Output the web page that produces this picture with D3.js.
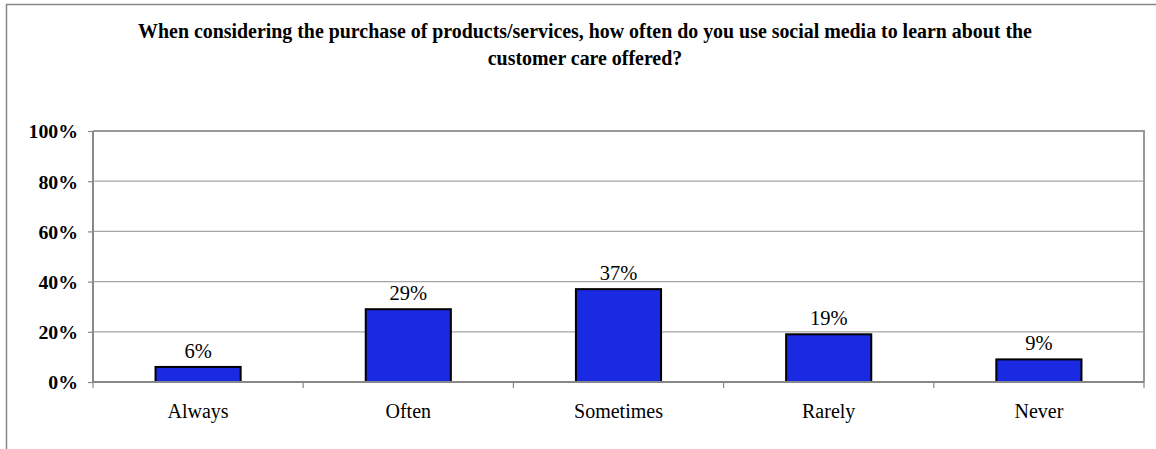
<!DOCTYPE html>
<html><head><meta charset="utf-8">
<script src="https://cdn.jsdelivr.net/npm/d3@7"></script>
<style>html,body{margin:0;padding:0;background:#fff;overflow:hidden}</style>
</head><body>
<svg id="c" width="1156" height="449"></svg>
<script>
const categories = ["Always","Often","Sometimes","Rarely","Never"];
const values = [6, 29, 37, 19, 9];
const yTicks = [0, 20, 40, 60, 80, 100];
const titleLines = ["When considering the purchase of products/services, how often do you use social media to learn about the","customer care offered?"];

const svg = d3.select("#c");
const font = "'Liberation Serif','Times New Roman',serif";
const m = {left: 93, right: 1144, top: 131, bottom: 382};

svg.append("rect").attr("x",6.5).attr("y",4.5).attr("width",1200).attr("height",500)
  .attr("fill","#fff").attr("stroke","#888").attr("stroke-width",1.5);

const x = d3.scaleBand().domain(categories).range([m.left, m.right]).paddingInner(0).paddingOuter(0);
const y = d3.scaleLinear().domain([0,100]).range([m.bottom, m.top]);

// gridlines
svg.append("g").selectAll("line").data(yTicks.filter(d=>d>0&&d<100)).join("line")
  .attr("x1",m.left).attr("x2",m.right).attr("y1",d=>y(d)).attr("y2",d=>y(d))
  .attr("stroke","#a6a6a6").attr("stroke-width",1.2);

// plot frame (top, right)
svg.append("path").attr("d",`M${m.left},${m.top}H${m.right}V${m.bottom}`)
  .attr("fill","none").attr("stroke","#999").attr("stroke-width",2);

// bars
const bw = x.bandwidth()*0.405;
svg.append("g").selectAll("rect").data(values).join("rect")
  .attr("x",(d,i)=>x(categories[i])+x.bandwidth()/2-bw/2)
  .attr("y",d=>y(d)).attr("width",bw).attr("height",d=>y(0)-y(d))
  .attr("fill","#1a2ae2").attr("stroke","#000").attr("stroke-width",2);

// value labels
svg.append("g").selectAll("text").data(values).join("text")
  .attr("x",(d,i)=>x(categories[i])+x.bandwidth()/2)
  .attr("y",d=>y(d)-9).attr("text-anchor","middle")
  .attr("font-family",font).attr("font-size",20.5).attr("fill","#000")
  .text(d=>d+"%");

// y axis
const yAxis = d3.axisLeft(y).tickValues(yTicks).tickSize(5).tickFormat(d=>d+"%");
const gy = svg.append("g").attr("transform",`translate(${m.left},0)`).call(yAxis);
gy.select(".domain").attr("stroke","#888").attr("stroke-width",2).attr("d",`M0,${m.top}V${m.bottom}`);
gy.selectAll(".tick line").attr("stroke","#888").attr("stroke-width",1.2);
gy.selectAll(".tick text").attr("font-family",font).attr("font-size",19.8).attr("font-weight","bold")
  .attr("fill","#000").attr("x",-15).attr("dy","0.35em");

// x axis
const xb = d3.scaleLinear().domain([0,categories.length]).range([m.left,m.right]);
const gx = svg.append("g").attr("transform",`translate(0,${m.bottom})`);
gx.append("line").attr("x1",m.left).attr("x2",m.right).attr("stroke","#888").attr("stroke-width",2);
gx.selectAll("line.t").data(d3.range(0,categories.length+1)).join("line").attr("class","t")
  .attr("x1",d=>xb(d)).attr("x2",d=>xb(d)).attr("y1",0).attr("y2",6)
  .attr("stroke","#888").attr("stroke-width",1.2);
gx.selectAll("text").data(categories).join("text")
  .attr("x",d=>x(d)+x.bandwidth()/2).attr("y",36).attr("text-anchor","middle")
  .attr("font-family",font).attr("font-size",20).attr("fill","#000").text(d=>d);

// title
svg.append("g").selectAll("text").data(titleLines).join("text")
  .attr("x",585).attr("y",(d,i)=>38+i*27).attr("text-anchor","middle")
  .attr("font-family",font).attr("font-size",19.9).attr("font-weight","bold").attr("fill","#000")
  .text(d=>d);
</script>
</body></html>
